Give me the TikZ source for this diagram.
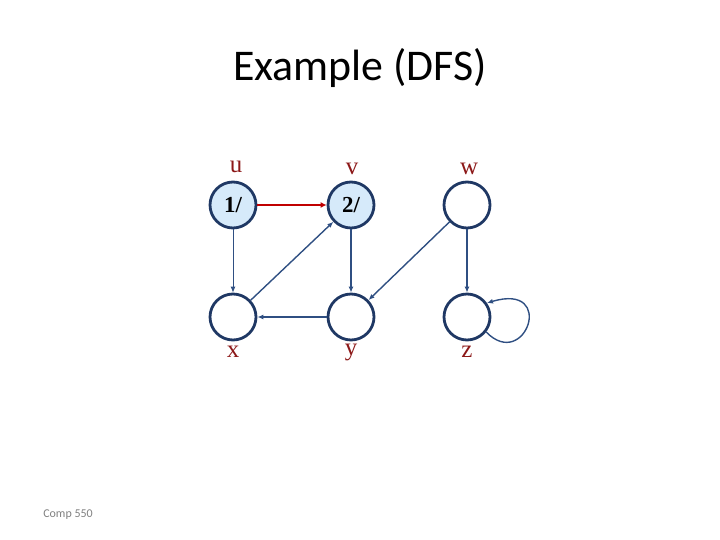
\documentclass[tikz,border=0pt]{standalone}
\usepackage{fontspec}
\setmainfont{Liberation Serif}
\newfontfamily\slidefont{Carlito}
\usetikzlibrary{arrows.meta, positioning}
\definecolor{cB}{RGB}{31,56,100}
\definecolor{cL}{RGB}{47,79,130}
\definecolor{cR}{RGB}{192,0,0}
\definecolor{cT}{RGB}{140,24,24}
\definecolor{cF}{RGB}{214,234,250}

\begin{document}
\begin{tikzpicture}[x=1bp, y=-1bp,
    vert/.style={circle, draw=cB, line width=2.8pt, fill=white, minimum size=46bp, inner sep=0pt, font=\fontsize{23}{23}\selectfont\bfseries},
    seen/.style={vert, fill=cF},
    vlab/.style={text=cT, font=\fontsize{25}{25}\selectfont},
    edge/.style={draw=cL, line width=1.4pt, -{Latex[length=6pt, width=5pt]}},
    tree/.style={draw=cR, line width=2.8pt, -{Latex[length=6pt, width=6pt]}}]
    \useasboundingbox (0,0) rectangle (720,540);

    % Title
    \node[font=\slidefont\fontsize{44}{44}\selectfont] (title) at (360,68) {Example (DFS)};

    % Vertices
    \node[seen] (u) at (233,205) {1/};
    \node[seen] (v) at (351,205) {2/};
    \node[vert] (w) at (467,205) {};
    \node[vert] (x) at (233,317) {};
    \node[vert] (y) at (351,317) {};
    \node[vert] (z) at (467,317) {};

    % Vertex names
    \node[vlab] (ul) at (236,167) {u};
    \node[vlab] (vl) at (352,169) {v};
    \node[vlab] (wl) at (469,169) {w};
    \node[vlab] (xl) at (233,352) {x};
    \node[vlab] (yl) at (351,352) {y};
    \node[vlab] (zl) at (467,352) {z};

    % Edges
    \draw[tree] (u) -- (v);
    \draw[edge, line width=0.8pt] (u) -- (x);
    \draw[edge] (x) -- (v);
    \draw[edge] (v) -- (y);
    \draw[edge] (y) -- (x);
    \draw[edge] (w) -- (y);
    \draw[edge] (w) -- (z);
    \draw[edge] (z.-38) .. controls (525,372) and (557,282) .. (z.35);

    % Footer
    \node[font=\slidefont\fontsize{12}{12}\selectfont, text=gray] (foot) at (68,515) {Comp 550};
\end{tikzpicture}
\end{document}
